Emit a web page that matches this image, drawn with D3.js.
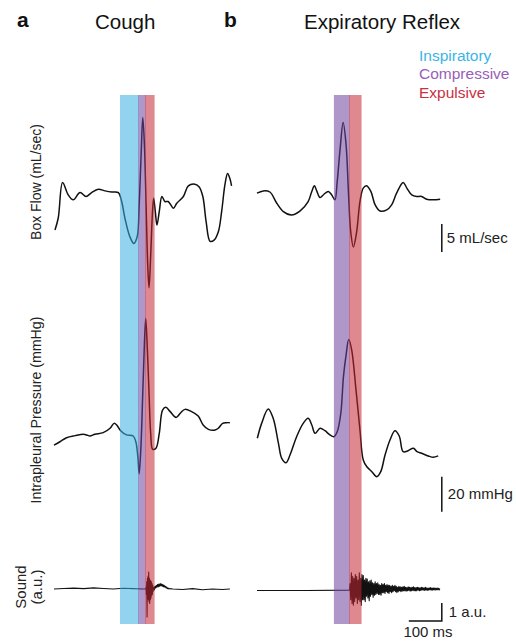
<!DOCTYPE html>
<html>
<head>
<meta charset="utf-8">
<script src="https://cdn.jsdelivr.net/npm/d3@7"></script>
<style>
  body { margin: 0; background: #fff; }
  svg { display: block; font-family: "Liberation Sans", Arial, sans-serif; }
</style>
</head>
<body>
<div id="chart"></div>
<script>
const width = 516,
  height = 641;

// phases (ms from start of each trace)
const coughPhases = [
  { name: "Inspiratory", start: 200, end: 255 },
  { name: "Compressive", start: 255, end: 276 },
  { name: "Expulsive", start: 276, end: 303 },
];
const reflexPhases = [
  { name: "Compressive", start: 233, end: 279 },
  { name: "Expulsive", start: 279, end: 315 },
];
const legendNames = ["Inspiratory", "Compressive", "Expulsive"];

// box flow, [ms, mL/sec]
const coughFlow = [
  [3, -6.8], [13, -4.6], [26, 1.7], [43, -0.5], [58, -1.4], [79, -0.1], [97, -0.8],
  [114, -0.1], [134, 0.5], [155, 0.2], [175, 0], [195, -0.1], [205, -1.7], [215, -4.7],
  [230, -8.0], [242, -9.2], [252, -8.0], [258, -2.3], [264, 6.6], [269, 13.3], [274, 8.4],
  [279, -2.3], [284, -13.0], [288, -17.1], [293, -11.3], [298, -4.1], [302, -1.1],
  [307, -3.5], [312, -5.9], [319, -3.5], [327, -0.8], [336, -1.7], [346, -1.7],
  [362, -2.9], [372, -2.0], [392, -0.8], [407, 1.1], [427, 1.4], [440, 0.9], [451, -0.8],
  [461, -5.3], [473, -8.8], [485, -8.6], [498, -7.1], [508, -3.5], [518, 1.3],
  [526, 3.3], [533, 2.4], [538, 1.1],
];
const reflexFlow = [
  [0, -0.2], [19, 0.2], [39, 0], [60, -2.0], [80, -3.5], [105, -4.1], [130, -3.4],
  [155, -1.7], [166, 0.1], [174, 1.1], [181, 0.2], [191, -1.0], [203, -0.4], [216, 0.1],
  [226, -0.5], [236, -1.4], [243, 1.8], [252, 7.8], [261, 12.4], [270, 8.4], [277, 0.1],
  [284, -7.1], [292, -9.8], [302, -7.1], [312, -1.7], [322, 0.7], [332, 1.1], [345, 0.1],
  [358, -2.3], [373, -3.4], [393, -3.2], [408, -2.3], [423, -0.2], [443, 1.7], [454, 0.7],
  [469, -0.5], [484, -0.8], [499, -0.8], [514, -1.3], [534, -1.4], [555, -1.3],
];

// intrapleural pressure, [ms, mmHg]
const coughPressure = [
  [0, -2.9], [18, -1.0], [38, 1.3], [64, 2.5], [89, 3.3], [99, 2.9], [109, 2.3],
  [124, 3.3], [149, 4.2], [170, 6.7], [182, 9.5], [190, 8.6], [202, 5.3], [220, 2.9],
  [240, 2.3], [248, -1.0], [254, -9.5], [258, -19.4], [263, -5.7], [269, 26.7],
  [274, 55.3], [278, 69.5], [283, 51.4], [288, 26.7], [293, 3.8], [299, -5.3],
  [309, -4.7], [319, 3.8], [329, 17.1], [339, 18.7], [352, 16.2], [370, 12.9],
  [384, 15.6], [397, 17.5], [417, 16.2], [437, 13.7], [452, 8.6], [468, 6.1],
  [488, 5.7], [498, 6.7], [511, 9.5], [523, 9.9], [533, 9.9],
];
const reflexPressure = [
  [1, 1.0], [14, 9.5], [34, 17.7], [49, 12.4], [65, -1.9], [75, -10.5], [88, -13.0],
  [100, -8.6], [120, 1.9], [140, 9.5], [155, 12.4], [166, 8.6], [176, 3.8], [191, 6.7],
  [206, 5.3], [221, 2.9], [233, 1.9], [243, 4.7], [254, 15.3], [262, 36.2], [270, 48.6],
  [278, 57.5], [287, 51.4], [300, 28.6], [312, 5.7], [322, -11.4], [333, -15.3],
  [348, -18.1], [363, -21.0], [375, -18.1], [388, -8.6], [403, 0], [418, 5.3],
  [431, 2.3], [443, -6.7], [458, -6.1], [474, -4.7], [485, -6.7], [499, -7.6],
  [519, -9.1], [534, -9.9], [549, -9.1],
];

// sound, a.u.
const coughSoundBefore = [
  [0, 0], [30, 0.03], [60, 0.05], [90, 0.02], [120, 0.06], [150, 0.03], [180, 0],
  [210, 0.04], [240, 0.02], [270, 0], [278, 0],
];
const coughBurstStart = 279; // 1 ms per sample
const coughBurst = [
  0.1, -0.3, 0.4, -1.55, 0.6, -0.5, 0.7, -0.6, 0.94, -0.7, 0.6, -0.8, 0.5, -0.6, 0.45,
  -0.5, 0.4, -0.35, 0.3, -0.3, 0.2, -0.15,
];
const coughTailStart = 302; // 2 ms per sample
const coughTail = [
  0.1, -0.05, 0.15, 0.05, 0.2, 0.1, 0.25, 0.12, 0.28, 0.15, 0.3, 0.18, 0.28, 0.15,
  0.25, 0.12, 0.2, 0.1, 0.15, 0.05, 0.1, 0.02, 0.05, 0, 0.02,
];
const coughSoundAfter = [
  [360, 0], [390, -0.03], [420, 0.02], [450, -0.04], [480, 0], [510, -0.03], [533, 0],
];
const reflexSoundBefore = [[0, -0.08], [150, -0.08], [280, -0.06]];
const reflexBurstStart = 282; // 2 ms per sample
const reflexBurst = [
  0.3, -0.6, 0.9, -0.8, 0.7, -0.9, 0.6, -0.7, 0.8, -0.5,
  0.7, -0.8, 0.5, -0.6, 0.9, -0.7, 0.6, -0.9, 0.8, -0.6,
  0.75, -0.6, 0.5, -0.7, 0.6, -0.4, 0.55, -0.5, 0.4, -0.65,
  0.45, -0.4, 0.5, -0.3, 0.35, -0.45, 0.3, -0.35, 0.4, -0.3,
  0.3, -0.25, 0.35, -0.3, 0.25, -0.3, 0.2, -0.35, 0.3, -0.2,
  0.25, -0.2, 0.3, -0.25, 0.2, -0.15, 0.25, -0.2, 0.2, -0.25,
  0.2, -0.15, 0.15, -0.2, 0.2, -0.15, 0.15, -0.1, 0.2, -0.15,
  0.15, -0.2, 0.1, -0.15, 0.15, -0.1, 0.12, -0.15, 0.1, -0.12,
  0.12, -0.1, 0.15, -0.1, 0.1, -0.12, 0.08, -0.1, 0.12, -0.08,
  0.1, -0.12, 0.08, -0.1, 0.1, -0.08, 0.12, -0.1, 0.08, -0.1,
  0.08, -0.1, 0.1, -0.06, 0.08, -0.1, 0.06, -0.08, 0.1, -0.06,
  0.08, -0.06, 0.06, -0.08, 0.1, -0.06, 0.06, -0.08, 0.05, -0.06,
  0.06, -0.05, 0.08, -0.06, 0.05, -0.06, 0.06, -0.05, 0.05, -0.06,
  0.05, -0.04, 0.05, -0.05, 0.04, -0.05, 0.03,
];

// scale bars
const flowBar = 5, pressBar = 20, soundBar = 1, timeBar = 100;

// colours
const phaseColor = d3
  .scaleOrdinal()
  .domain(legendNames)
  .range(["#39afe2", "#6f429d", "#c52735"]);
const legendColor = d3
  .scaleOrdinal()
  .domain(legendNames)
  .range(["#3cb4e6", "#9a5db8", "#c8313f"]);

// ranges (0.33 px per ms)
const xCough = d3.scaleLinear().domain([0, 540]).range([54, 54 + 540 * 0.33]);
const xReflex = d3.scaleLinear().domain([0, 560]).range([257, 257 + 560 * 0.33]);
const yFlow = d3.scaleLinear().domain([-10, 10]).range([248, 136]);
const yPress = d3.scaleLinear().domain([-20, 20]).range([475, 405]);
const ySound = d3.scaleLinear().domain([-1, 1]).range([607, 571]);

const svg = d3
  .select("#chart")
  .append("svg")
  .attr("width", width)
  .attr("height", height);

// build sound series
const seq = (t0, step, vals) => vals.map((v, i) => [t0 + i * step, v]);
const coughSound = coughSoundBefore
  .concat(seq(coughBurstStart, 1, coughBurst))
  .concat(seq(coughTailStart, 2, coughTail))
  .concat(coughSoundAfter);
const reflexSound = reflexSoundBefore.concat(seq(reflexBurstStart, 2, reflexBurst));

function trace(x, y, data, curve, w) {
  const line = d3
    .line()
    .x((d) => x(d[0]))
    .y((d) => y(d[1]))
    .curve(curve);
  svg
    .append("path")
    .datum(data)
    .attr("d", line)
    .attr("fill", "none")
    .attr("stroke", "#111")
    .attr("stroke-width", w)
    .attr("stroke-linejoin", "round");
}

const smooth = d3.curveCatmullRom.alpha(0.5);
trace(xCough, yFlow, coughFlow, smooth, 1.5);
trace(xReflex, yFlow, reflexFlow, smooth, 1.5);
trace(xCough, yPress, coughPressure, smooth, 1.5);
trace(xReflex, yPress, reflexPressure, smooth, 1.5);
trace(xCough, ySound, coughSound, d3.curveLinear, 1.1);
trace(xReflex, ySound, reflexSound, d3.curveLinear, 1.1);

// phase bands on top of the traces
function bands(x, phases) {
  svg
    .append("g")
    .selectAll("rect")
    .data(phases)
    .join("rect")
    .attr("x", (d) => x(d.start))
    .attr("y", 95)
    .attr("width", (d) => x(d.end) - x(d.start) + 0.6)
    .attr("height", 529)
    .attr("fill", (d) => phaseColor(d.name))
    .attr("opacity", 0.55);
}
bands(xCough, coughPhases);
bands(xReflex, reflexPhases);

// titles
const titles = svg.append("g").attr("fill", "#111");
titles.append("text").attr("x", 17).attr("y", 27).attr("font-size", 21).attr("font-weight", "bold").text("a");
titles.append("text").attr("x", 224).attr("y", 27).attr("font-size", 21).attr("font-weight", "bold").text("b");
titles.append("text").attr("x", 95).attr("y", 29).attr("font-size", 20.5).text("Cough");
titles.append("text").attr("x", 304).attr("y", 29).attr("font-size", 20.5).text("Expiratory Reflex");

// legend
svg
  .append("g")
  .selectAll("text")
  .data(legendNames)
  .join("text")
  .attr("x", 419)
  .attr("y", (d, i) => 61 + i * 18.4)
  .attr("font-size", 15.5)
  .attr("fill", (d) => legendColor(d))
  .text((d) => d);

// y labels
function ylabel(x, y, txt, size) {
  svg
    .append("text")
    .attr("transform", `translate(${x},${y}) rotate(-90)`)
    .attr("text-anchor", "middle")
    .attr("font-size", size)
    .attr("fill", "#222")
    .text(txt);
}
ylabel(41, 182, "Box Flow (mL/sec)", 14);
ylabel(41, 410, "Intrapleural Pressure (mmHg)", 14.2);
ylabel(26, 587, "Sound", 15);
ylabel(42, 587, "(a.u.)", 15);

// scale bars
const barX = xReflex(560);
const bars = svg.append("g").attr("stroke", "#111").attr("stroke-width", 1.5).attr("fill", "none");
bars.append("line").attr("x1", barX).attr("x2", barX).attr("y1", yFlow(-10.7)).attr("y2", yFlow(-10.7 + flowBar));
bars.append("line").attr("x1", barX).attr("x2", barX).attr("y1", yPress(-21)).attr("y2", yPress(-21 - pressBar));
bars.append("path").attr(
  "d",
  `M${xReflex(560 - timeBar)},${ySound(-1.78)}H${barX}V${ySound(-1.78 + soundBar)}`
);

const lab = svg.append("g").attr("font-size", 15).attr("fill", "#222");
lab.append("text").attr("x", barX + 5).attr("y", 243).text(flowBar + " mL/sec");
lab.append("text").attr("x", barX + 6).attr("y", 499).text(pressBar + " mmHg");
lab.append("text").attr("x", barX + 7).attr("y", 617).text(soundBar + " a.u.");
lab.append("text").attr("x", 428).attr("y", 637).attr("text-anchor", "middle").text(timeBar + " ms");
</script>
</body>
</html>
